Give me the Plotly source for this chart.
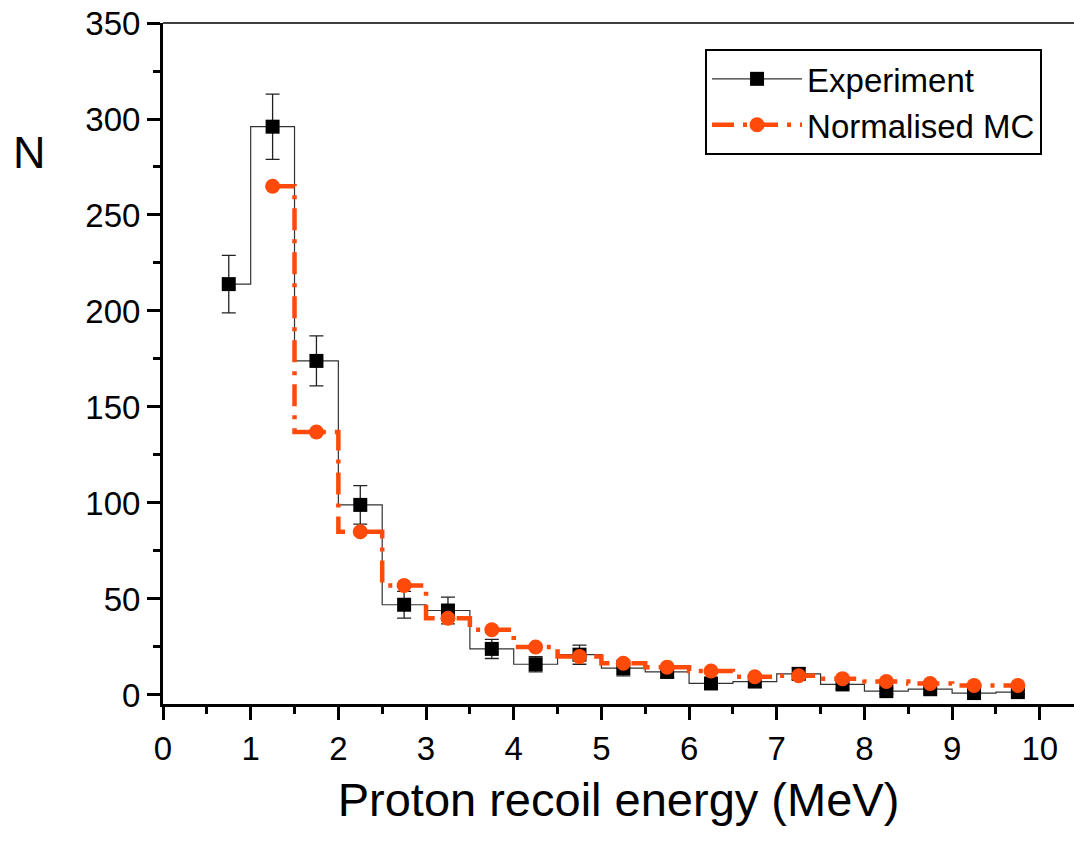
import plotly.graph_objects as go

energy = [0.75, 1.25, 1.75, 2.25, 2.75, 3.25, 3.75, 4.25, 4.75, 5.25,
          5.75, 6.25, 6.75, 7.25, 7.75, 8.25, 8.75, 9.25, 9.75]
exp_counts = [214, 296, 174, 99, 47, 44, 24, 16, 21, 14,
              12, 6, 7, 11, 5.5, 2, 3, 1, 1.5]
exp_errors = [15, 17, 13, 10, 7, 7, 5, 4, 5, 4,
              3, 2.5, 3, 3, 2.5, 1.5, 2, 1, 1.2]
mc_energy = [1.25, 1.75, 2.25, 2.75, 3.25, 3.75, 4.25, 4.75, 5.25,
             5.75, 6.25, 6.75, 7.25, 7.75, 8.25, 8.75, 9.25, 9.75]
mc_counts = [265, 137, 85, 57, 40, 34, 25, 20, 16.5,
             14.5, 12.5, 9.5, 10, 8.5, 7, 6, 5, 5]

xticks = [0, 1, 2, 3, 4, 5, 6, 7, 8, 9, 10]
yticks = [0, 50, 100, 150, 200, 250, 300, 350]

FONT = "Liberation Sans, Arial, sans-serif"
MC_COLOR = "#FF4A0A"

fig = go.Figure()

fig.add_trace(go.Scatter(
    x=energy, y=exp_counts, name="Experiment",
    mode="lines+markers",
    line=dict(shape="hvh", color="#333333", width=1.2),
    marker=dict(symbol="square", size=14, color="black"),
    error_y=dict(type="data", array=exp_errors, visible=True,
                 color="#222222", thickness=1.3, width=7),
))

fig.add_trace(go.Scatter(
    x=mc_energy, y=mc_counts, name="Normalised MC",
    mode="lines+markers",
    line=dict(shape="hvh", color=MC_COLOR, width=4.5, dash="22px,9px,4px,9px"),
    marker=dict(symbol="circle", size=15, color=MC_COLOR),
))

fig.add_shape(type="line", xref="paper", yref="paper", x0=0, x1=1, y0=1, y1=1,
              line=dict(color="black", width=1.5))

fig.add_annotation(text="N", xref="paper", yref="paper",
                   x=-0.146, y=0.81, xanchor="center", yanchor="middle",
                   showarrow=False, font=dict(family=FONT, size=45, color="black"))

fig.update_layout(
    width=1074, height=842,
    margin=dict(l=163, r=0, t=23, b=138),
    plot_bgcolor="white", paper_bgcolor="white",
    font=dict(family=FONT, color="black"),
    showlegend=True,
    legend=dict(x=0.595, y=0.962, xanchor="left", yanchor="top",
                bordercolor="black", borderwidth=2, bgcolor="white",
                font=dict(family=FONT, size=33, color="black"),
                itemwidth=90, tracegroupgap=0),
)

fig.update_xaxes(
    range=[0, 10.39], tickvals=xticks, ticktext=[str(v) for v in xticks],
    showgrid=False, zeroline=False, showline=True, linecolor="black", linewidth=3,
    ticks="outside", ticklen=13, tickwidth=2.5, tickcolor="black",
    tickfont=dict(family=FONT, size=33, color="black"),
    minor=dict(dtick=0.5, ticks="outside", ticklen=7, tickwidth=2.5, tickcolor="black"),
    title=dict(text="Proton recoil energy (MeV)", font=dict(family=FONT, size=47, color="black"),
               standoff=18),
)

fig.update_yaxes(
    range=[-4.7, 350], tickvals=yticks, ticktext=[str(v) for v in yticks],
    showgrid=False, zeroline=False, showline=True, linecolor="black", linewidth=3,
    ticks="outside", ticklen=13, tickwidth=2.5, tickcolor="black",
    tickfont=dict(family=FONT, size=33, color="black"),
    minor=dict(dtick=25, tick0=0, ticks="outside", ticklen=7, tickwidth=2.5, tickcolor="black"),
)

fig.write_html("out.html", config={"displayModeBar": False},
               post_script="document.body.style.margin='0px';document.body.style.overflow='hidden';")
